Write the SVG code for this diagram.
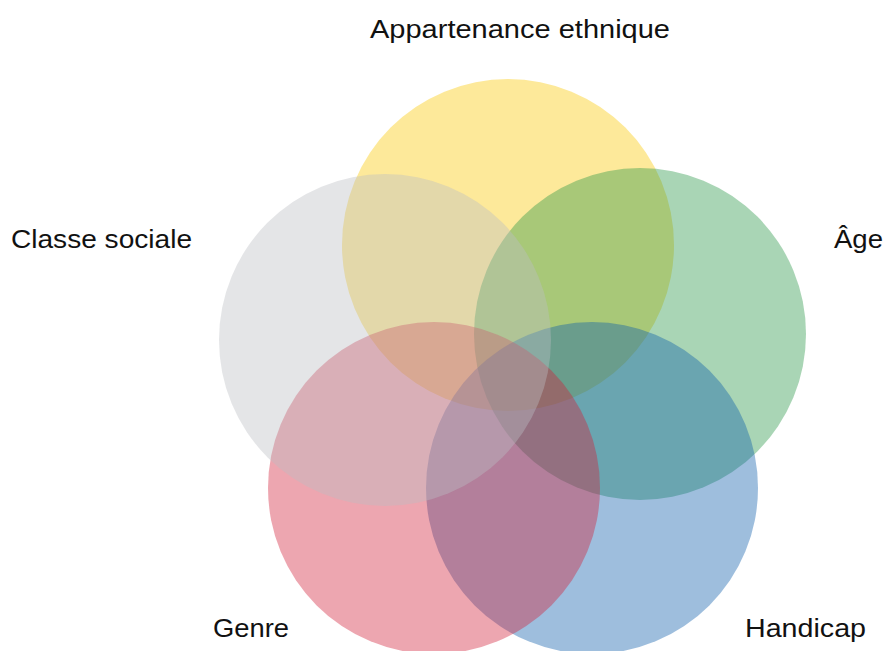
<svg xmlns="http://www.w3.org/2000/svg" width="886" height="651" viewBox="0 0 886 651">
<style>
.c{fill-opacity:0.4}
.t{font-family:"Liberation Sans","DejaVu Sans",sans-serif;font-size:26px;fill:#111}
</style>
<rect width="886" height="651" fill="#fff"/>
<g id="yellow"><circle class="c" cx="508" cy="245" r="166" fill="#FAC802"/></g>
<g id="green"><circle class="c" cx="640" cy="334" r="166" fill="#289646"/></g>
<g id="blue"><circle class="c" cx="592" cy="488" r="166" fill="#0C5CAA"/></g>
<g id="pink"><circle class="c" cx="434" cy="488" r="166" fill="#D22039"/></g>
<g id="grey"><circle class="c" cx="385" cy="340" r="166" fill="#BBBEC3"/></g>
<g id="connectors"></g>
<g id="labels">
<text class="t" x="520" y="38" text-anchor="middle" textLength="300" lengthAdjust="spacingAndGlyphs">Appartenance ethnique</text>
<text class="t" x="11" y="248" textLength="181" lengthAdjust="spacingAndGlyphs">Classe sociale</text>
<text class="t" x="834" y="248" textLength="49" lengthAdjust="spacingAndGlyphs">Âge</text>
<text class="t" x="213" y="637" textLength="76" lengthAdjust="spacingAndGlyphs">Genre</text>
<text class="t" x="745" y="637" textLength="121" lengthAdjust="spacingAndGlyphs">Handicap</text>
</g>
</svg>
